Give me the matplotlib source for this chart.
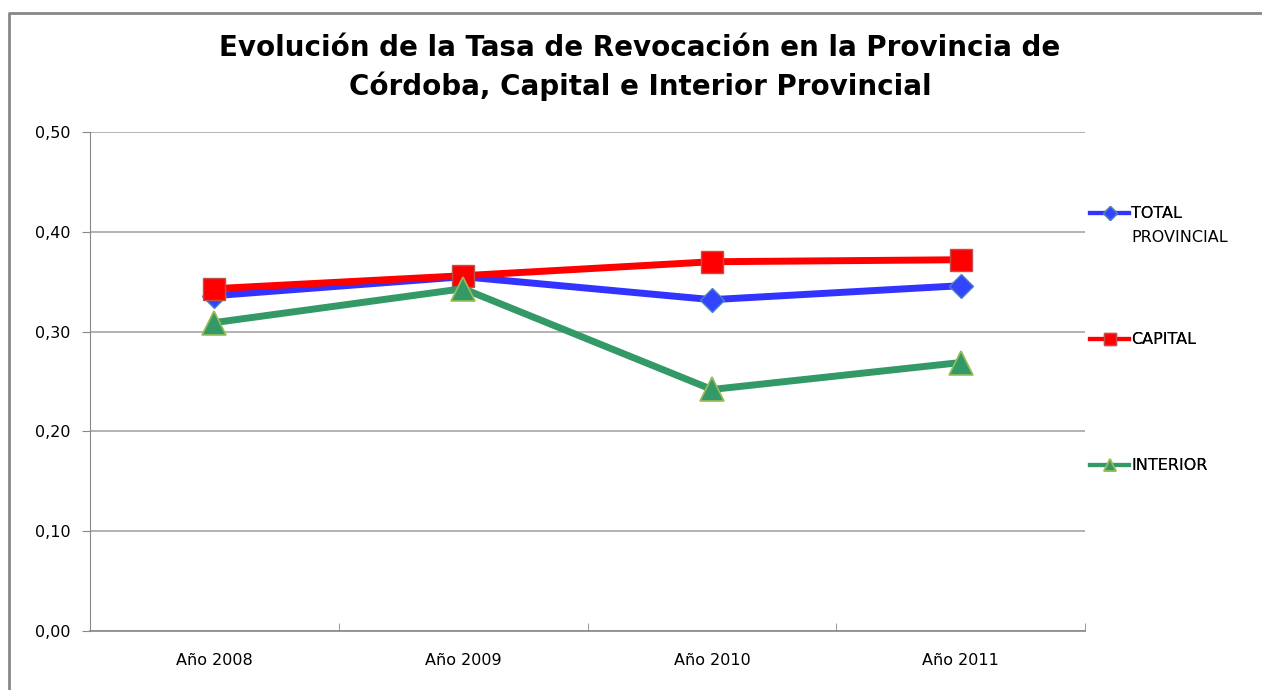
import matplotlib
matplotlib.use('Agg')
import matplotlib.pyplot as plt
from matplotlib.lines import Line2D

# Data
years = ['Año 2008', 'Año 2009', 'Año 2010', 'Año 2011']
total_provincial = [0.336, 0.355, 0.332, 0.346]
capital = [0.343, 0.356, 0.370, 0.372]
interior = [0.309, 0.343, 0.242, 0.269]

plt.rcParams['font.family'] = ['DejaVu Sans']

fig = plt.figure(figsize=(12.62, 6.90), dpi=100)
ax = fig.add_axes([90/1262, 1 - 631/690, (1085 - 90)/1262, (631 - 132)/690])

x = range(len(years))
styles = [
    dict(color='#3333ff', marker='D', ms=12, mfc='#3344ff', mec='#4f81bd', mew=1),
    dict(color='#ff0000', marker='s', ms=16, mfc='#ff0000', mec='#c0504d', mew=1),
    dict(color='#339966', marker='^', ms=17, mfc='#339966', mec='#9bbb59', mew=1.2),
]
series = [total_provincial, capital, interior]
for i, (vals, st) in enumerate(zip(series, styles)):
    ax.plot(x, vals, lw=5, zorder=3 + i, **st)

ax.set_xlim(-0.5, 3.5)
ax.set_ylim(0, 0.5)
ax.set_yticks([0, 0.1, 0.2, 0.3, 0.4, 0.5])
ax.set_yticklabels(['0,00', '0,10', '0,20', '0,30', '0,40', '0,50'], fontsize=11.5)
ax.set_xticks(list(x))
ax.set_xticklabels(years, fontsize=11.5)
ax.set_xticks([-0.5, 0.5, 1.5, 2.5, 3.5], minor=True)
ax.tick_params(axis='x', which='major', length=0, pad=16)
ax.tick_params(axis='x', which='minor', length=6, color='#888888', direction='in')
ax.tick_params(axis='y', length=6, color='#888888', pad=8)
ax.grid(axis='y', color='#a6a6a6', lw=1.2)
ax.set_axisbelow(True)
for s in ['top', 'right']:
    ax.spines[s].set_visible(False)
ax.spines['left'].set_color('#888888')
ax.spines['bottom'].set_color('#888888')
ax.spines['bottom'].set_linewidth(1.2)

fig.text(0.507, 1 - 48/690, 'Evolución de la Tasa de Revocación en la Provincia de',
         ha='center', va='center', fontsize=20, fontweight='bold')
fig.text(0.507, 1 - 86/690, 'Córdoba, Capital e Interior Provincial',
         ha='center', va='center', fontsize=20, fontweight='bold')

# legend entries placed individually like the original
labels = ['TOTAL', 'CAPITAL', 'INTERIOR']
legend_y = [1 - 214/690, 1 - 340/690, 1 - 466/690]
leg_ms = [7, 9, 9]
for lab, st, yy, ms in zip(labels, styles, legend_y, leg_ms):
    st2 = dict(st)
    st2['ms'] = ms
    h = Line2D([], [], lw=3, **st2)
    leg = fig.legend([h], [lab], loc='center left', bbox_to_anchor=(1084/1262, yy),
                     frameon=False, fontsize=11.5, handlelength=2.4, handletextpad=0.15,
                     borderaxespad=0)
    fig.add_artist(leg)
fig.text(1131/1262, 1 - 238/690, 'PROVINCIAL', ha='left', va='center', fontsize=11.5)

# chart area border
fig.add_artist(Line2D([9/1262, 9/1262, 1.0], [0.0, 1 - 13/690, 1 - 13/690],
                      transform=fig.transFigure, color='#888888', lw=2))

fig.savefig('out.png', dpi=100)
